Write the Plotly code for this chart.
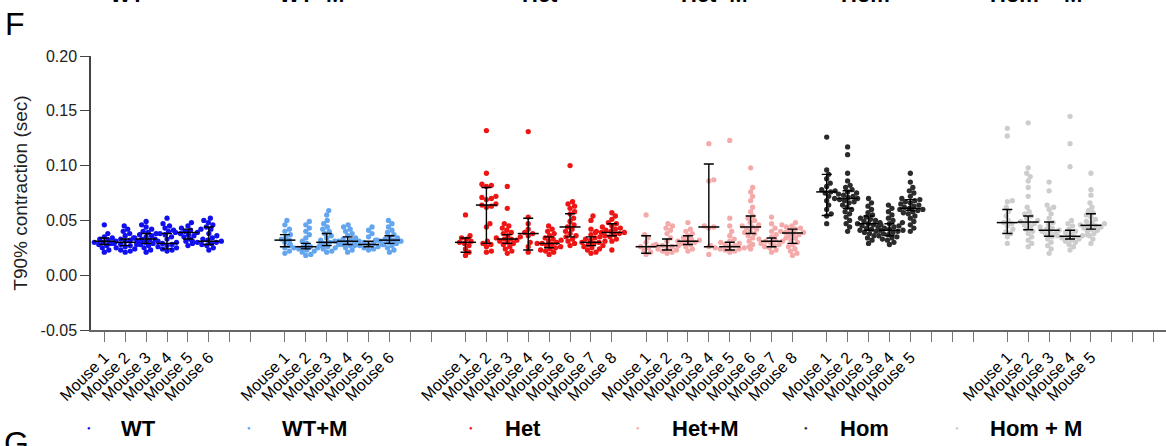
import numpy as np
import plotly.graph_objects as go

# ---------------- data ----------------
groups = ["WT", "WT+M", "Het", "Het+M", "Hom", "Hom + M"]
colors = ["#1010ee", "#63a5ef", "#ee1515", "#f5aaaa", "#2b2b2b", "#cdcdcd"]

wt = [
    [0.046, 0.038, 0.035, 0.034, 0.033, 0.032, 0.031, 0.031, 0.030, 0.030, 0.029, 0.028, 0.027, 0.025, 0.023, 0.021],
    [0.045, 0.042, 0.040, 0.038, 0.036, 0.034, 0.033, 0.032, 0.031, 0.030, 0.030, 0.029, 0.029, 0.028, 0.028, 0.027, 0.026, 0.025, 0.024, 0.023, 0.022, 0.021],
    [0.049, 0.046, 0.044, 0.042, 0.040, 0.039, 0.038, 0.037, 0.036, 0.035, 0.034, 0.033, 0.033, 0.032, 0.031, 0.030, 0.029, 0.028, 0.027, 0.025, 0.023, 0.021],
    [0.052, 0.047, 0.045, 0.043, 0.041, 0.040, 0.038, 0.037, 0.035, 0.033, 0.031, 0.030, 0.029, 0.028, 0.027, 0.026, 0.025, 0.024, 0.023, 0.022],
    [0.048, 0.045, 0.043, 0.042, 0.041, 0.040, 0.039, 0.039, 0.038, 0.037, 0.036, 0.035, 0.033, 0.031, 0.029, 0.027],
    [0.052, 0.050, 0.048, 0.046, 0.044, 0.042, 0.038, 0.036, 0.034, 0.033, 0.032, 0.031, 0.031, 0.030, 0.030, 0.029, 0.028, 0.027, 0.025, 0.023],
]
wt_m = [
    [0.050, 0.046, 0.042, 0.040, 0.037, 0.035, 0.033, 0.032, 0.030, 0.027, 0.025, 0.022, 0.020],
    [0.049, 0.046, 0.043, 0.040, 0.037, 0.034, 0.031, 0.029, 0.028, 0.027, 0.026, 0.026, 0.025, 0.025, 0.024, 0.023, 0.022, 0.021, 0.019, 0.018],
    [0.059, 0.055, 0.050, 0.047, 0.044, 0.042, 0.040, 0.038, 0.036, 0.034, 0.032, 0.031, 0.030, 0.029, 0.028, 0.027, 0.026, 0.025, 0.024, 0.022, 0.021],
    [0.046, 0.044, 0.042, 0.040, 0.038, 0.036, 0.034, 0.033, 0.032, 0.031, 0.031, 0.030, 0.029, 0.028, 0.027, 0.025, 0.023, 0.021],
    [0.044, 0.041, 0.038, 0.035, 0.032, 0.030, 0.029, 0.028, 0.028, 0.027, 0.027, 0.026, 0.025, 0.024, 0.023],
    [0.050, 0.047, 0.044, 0.041, 0.039, 0.037, 0.035, 0.034, 0.033, 0.032, 0.032, 0.031, 0.031, 0.030, 0.029, 0.028, 0.027, 0.025, 0.023, 0.021],
]
het = [
    [0.055, 0.036, 0.034, 0.033, 0.031, 0.030, 0.029, 0.027, 0.024, 0.021, 0.018],
    [0.132, 0.093, 0.083, 0.082, 0.081, 0.072, 0.071, 0.070, 0.069, 0.065, 0.064, 0.063, 0.062, 0.047, 0.044, 0.031, 0.029, 0.028, 0.026, 0.022, 0.021],
    [0.081, 0.061, 0.047, 0.045, 0.043, 0.041, 0.039, 0.038, 0.036, 0.035, 0.034, 0.033, 0.033, 0.032, 0.031, 0.030, 0.029, 0.028, 0.026, 0.024, 0.022, 0.020],
    [0.131, 0.053, 0.047, 0.042, 0.039, 0.038, 0.036, 0.030, 0.026, 0.021],
    [0.045, 0.042, 0.040, 0.038, 0.036, 0.034, 0.033, 0.032, 0.031, 0.030, 0.029, 0.029, 0.028, 0.027, 0.026, 0.025, 0.024, 0.023, 0.022, 0.021, 0.019],
    [0.100, 0.067, 0.065, 0.063, 0.061, 0.058, 0.056, 0.052, 0.049, 0.046, 0.044, 0.042, 0.040, 0.038, 0.036, 0.035, 0.033, 0.031, 0.029, 0.027],
    [0.054, 0.050, 0.042, 0.039, 0.037, 0.035, 0.034, 0.033, 0.032, 0.031, 0.030, 0.030, 0.029, 0.028, 0.027, 0.026, 0.025, 0.024, 0.023, 0.021, 0.020],
    [0.057, 0.054, 0.051, 0.048, 0.047, 0.045, 0.044, 0.043, 0.042, 0.041, 0.040, 0.040, 0.039, 0.039, 0.038, 0.037, 0.036, 0.035, 0.033, 0.031, 0.023],
]
het_m = [
    [0.055, 0.037, 0.034, 0.030, 0.027, 0.026, 0.025, 0.023, 0.021, 0.019],
    [0.047, 0.045, 0.043, 0.041, 0.038, 0.034, 0.031, 0.029, 0.028, 0.027, 0.027, 0.026, 0.025, 0.024, 0.023, 0.022, 0.021, 0.020],
    [0.048, 0.042, 0.040, 0.038, 0.036, 0.034, 0.033, 0.032, 0.031, 0.031, 0.030, 0.029, 0.028, 0.026, 0.024, 0.022],
    [0.120, 0.087, 0.086, 0.045, 0.044, 0.043, 0.026, 0.019],
    [0.123, 0.052, 0.045, 0.040, 0.036, 0.033, 0.031, 0.030, 0.029, 0.028, 0.027, 0.027, 0.026, 0.026, 0.025, 0.025, 0.024, 0.024, 0.023, 0.022, 0.021],
    [0.098, 0.080, 0.076, 0.072, 0.068, 0.062, 0.058, 0.054, 0.052, 0.050, 0.048, 0.046, 0.045, 0.044, 0.043, 0.042, 0.040, 0.039, 0.038, 0.036, 0.034, 0.031, 0.028, 0.024],
    [0.053, 0.047, 0.043, 0.040, 0.037, 0.035, 0.034, 0.033, 0.032, 0.031, 0.031, 0.030, 0.029, 0.028, 0.027, 0.026, 0.025, 0.023, 0.021],
    [0.048, 0.046, 0.045, 0.044, 0.043, 0.042, 0.041, 0.040, 0.039, 0.039, 0.038, 0.037, 0.036, 0.034, 0.032, 0.030, 0.028, 0.026, 0.024, 0.022, 0.020, 0.018],
]
hom = [
    [0.126, 0.096, 0.092, 0.088, 0.084, 0.081, 0.078, 0.076, 0.075, 0.072, 0.068, 0.064, 0.060, 0.056, 0.054, 0.047],
    [0.117, 0.110, 0.093, 0.086, 0.082, 0.080, 0.078, 0.077, 0.076, 0.075, 0.074, 0.073, 0.072, 0.071, 0.070, 0.070, 0.069, 0.068, 0.067, 0.066, 0.064, 0.062, 0.060, 0.058, 0.056, 0.053, 0.050, 0.047, 0.044, 0.040],
    [0.070, 0.066, 0.063, 0.060, 0.057, 0.055, 0.053, 0.052, 0.051, 0.050, 0.049, 0.048, 0.047, 0.047, 0.046, 0.045, 0.044, 0.043, 0.042, 0.041, 0.040, 0.039, 0.038, 0.036, 0.034, 0.032, 0.029],
    [0.064, 0.061, 0.058, 0.055, 0.052, 0.050, 0.048, 0.047, 0.046, 0.045, 0.044, 0.043, 0.042, 0.041, 0.041, 0.040, 0.039, 0.038, 0.037, 0.036, 0.035, 0.034, 0.033, 0.032, 0.030, 0.028],
    [0.093, 0.085, 0.080, 0.077, 0.075, 0.072, 0.070, 0.069, 0.068, 0.067, 0.066, 0.065, 0.064, 0.063, 0.062, 0.061, 0.060, 0.060, 0.059, 0.058, 0.057, 0.056, 0.054, 0.052, 0.049, 0.046, 0.043, 0.040],
]
hom_m = [
    [0.134, 0.127, 0.068, 0.067, 0.062, 0.058, 0.054, 0.050, 0.048, 0.047, 0.045, 0.042, 0.040, 0.038, 0.035, 0.029],
    [0.139, 0.098, 0.093, 0.090, 0.086, 0.080, 0.072, 0.062, 0.058, 0.056, 0.054, 0.052, 0.050, 0.049, 0.048, 0.047, 0.046, 0.044, 0.042, 0.040, 0.038, 0.035, 0.032, 0.029, 0.026],
    [0.085, 0.077, 0.064, 0.062, 0.060, 0.056, 0.052, 0.048, 0.046, 0.044, 0.043, 0.042, 0.041, 0.040, 0.039, 0.038, 0.037, 0.035, 0.033, 0.030, 0.027, 0.024, 0.020],
    [0.145, 0.120, 0.099, 0.050, 0.047, 0.045, 0.042, 0.040, 0.039, 0.038, 0.037, 0.036, 0.036, 0.035, 0.035, 0.034, 0.033, 0.032, 0.031, 0.030, 0.028, 0.026, 0.023],
    [0.093, 0.078, 0.073, 0.066, 0.062, 0.059, 0.057, 0.055, 0.053, 0.051, 0.049, 0.048, 0.047, 0.046, 0.045, 0.045, 0.044, 0.043, 0.042, 0.041, 0.040, 0.038, 0.036, 0.033, 0.029],
]
group_values = [wt, wt_m, het, het_m, hom, hom_m]

# median and spread bars
med = [
    [0.031, 0.030, 0.033, 0.029, 0.039, 0.031],
    [0.032, 0.026, 0.030, 0.031, 0.028, 0.032],
    [0.030, 0.064, 0.033, 0.038, 0.029, 0.044, 0.030, 0.039],
    [0.026, 0.027, 0.031, 0.044, 0.026, 0.044, 0.031, 0.0385],
    [0.076, 0.070, 0.047, 0.041, 0.061],
    [0.048, 0.0485, 0.041, 0.0355, 0.0455],
]
low = [
    [0.028, 0.027, 0.029, 0.024, 0.033, 0.028],
    [0.026, 0.024, 0.027, 0.028, 0.026, 0.029],
    [0.021, 0.029, 0.029, 0.023, 0.025, 0.035, 0.027, 0.036],
    [0.020, 0.023, 0.028, 0.026, 0.023, 0.038, 0.026, 0.029],
    [0.0545, 0.061, 0.041, 0.036, 0.059],
    [0.038, 0.0415, 0.0355, 0.033, 0.042],
]
high = [
    [0.034, 0.033, 0.038, 0.038, 0.042, 0.044],
    [0.037, 0.029, 0.038, 0.035, 0.031, 0.036],
    [0.034, 0.080, 0.037, 0.052, 0.035, 0.056, 0.035, 0.047],
    [0.036, 0.033, 0.036, 0.1015, 0.030, 0.054, 0.034, 0.042],
    [0.092, 0.077, 0.054, 0.047, 0.069],
    [0.060, 0.054, 0.0485, 0.041, 0.056],
]

y_ticks = [-0.05, 0.0, 0.05, 0.10, 0.15, 0.20]
y_ticktext = ["-0.05", "0.00", "0.05", "0.10", "0.15", "0.20"]
mouse_label = "Mouse {}"

# ---------------- layout geometry ----------------
W, H = 1166, 446
ML, MR, MT, MB = 91, 0, 56, 116
SLOT_PX = 20.91          # pixels per category slot
SLOTS = 8                # slots per group
GROUP_PERIOD = 8.637     # slots per group incl. gap
FIRST_PX = 104.3 - ML    # first tick offset from plot left
x0 = -FIRST_PX / SLOT_PX
x1 = x0 + (W - ML - MR) / SLOT_PX
YMIN, YMAX = -0.05, 0.20
Y_PX = (H - MT - MB) / (YMAX - YMIN)

FONT = "Arial, Liberation Sans, Helvetica, sans-serif"


def swarm_offsets(vals, diam=4.8):
    """deterministic beeswarm: returns x offsets in slot units"""
    ys = np.asarray(vals, dtype=float) * Y_PX
    order = np.argsort(ys)
    placed = []
    offs = np.zeros(len(ys))
    cands = [0.0]
    for k in range(1, 60):
        cands += [k * 0.5, -k * 0.5]
    for i in order:
        y = ys[i]
        for c in cands:
            if all((c - px) ** 2 + (y - py) ** 2 >= diam ** 2 for px, py in placed):
                offs[i] = c
                placed.append((c, y))
                break
    return offs / SLOT_PX


fig = go.Figure()

tickvals, ticktext = [], []
for g in range(len(groups)):
    for s in range(SLOTS):
        tickvals.append(g * GROUP_PERIOD + s)
        ticktext.append(mouse_label.format(s + 1) if s < len(group_values[g]) else "")

for g, (name, col, mice) in enumerate(zip(groups, colors, group_values)):
    xs, ys = [], []
    for s, vals in enumerate(mice):
        center = g * GROUP_PERIOD + s
        offs = swarm_offsets(vals)
        xs.extend(center + offs)
        ys.extend(vals)
    fig.add_trace(go.Scatter(
        x=xs, y=ys, mode="markers", name=name, showlegend=False,
        marker=dict(size=5.3, color=col, line=dict(width=0)),
        cliponaxis=False,
    ))

for g in range(len(groups)):
    centers = [g * GROUP_PERIOD + s for s in range(len(med[g]))]
    m = np.array(med[g]); lo = np.array(low[g]); hi = np.array(high[g])
    fig.add_trace(go.Scatter(
        x=centers, y=m, mode="markers", showlegend=False,
        marker=dict(symbol="line-ew", size=15, color="black",
                    line=dict(width=1.5, color="black")),
        error_y=dict(type="data", symmetric=False, array=hi - m, arrayminus=m - lo,
                     color="black", thickness=1.4, width=5),
        cliponaxis=False,
    ))


def px2paper_x(px):
    return (px - ML) / (W - ML - MR)


def px2paper_y(py):
    return (H - MB - py) / (H - MT - MB)


legend_dot_px = [89, 249, 471, 638, 806, 957]
legend_txt_px = [119, 280, 503, 670, 838, 988]
LEG_Y = 428
title_px = [127, 311, 540, 714, 865, 1036]

annotations = []
annotations.append(dict(text="F", x=px2paper_x(15), y=px2paper_y(24), xref="paper", yref="paper",
                        showarrow=False, font=dict(size=32, color="black", family=FONT),
                        xanchor="center", yanchor="middle"))
annotations.append(dict(text="G", x=px2paper_x(16), y=px2paper_y(443), xref="paper", yref="paper",
                        showarrow=False, font=dict(size=32, color="black", family=FONT),
                        xanchor="center", yanchor="middle"))
for name, col, dpx, tpx in zip(groups, colors, legend_dot_px, legend_txt_px):
    annotations.append(dict(text="<b>%s</b>" % name, x=px2paper_x(tpx), y=px2paper_y(LEG_Y),
                            xref="paper", yref="paper", showarrow=False, xanchor="left",
                            yanchor="middle", font=dict(size=22, color="black", family=FONT)))
    annotations.append(dict(text="●", x=px2paper_x(dpx), y=px2paper_y(LEG_Y), xref="paper",
                            yref="paper", showarrow=False, xanchor="center", yanchor="middle",
                            font=dict(size=6, color=col, family=FONT)))
# group titles cut at the top of the picture
for name, tpx in zip(groups, title_px):
    annotations.append(dict(text="<b>%s</b>" % name, x=px2paper_x(tpx), y=px2paper_y(9),
                            xref="paper", yref="paper", showarrow=False, xanchor="center",
                            yanchor="bottom", font=dict(size=22, color="black", family=FONT)))

fig.update_layout(
    width=W, height=H,
    margin=dict(l=ML, r=MR, t=MT, b=MB, pad=0),
    paper_bgcolor="white", plot_bgcolor="white",
    showlegend=False,
    font=dict(family=FONT, color="black"),
    annotations=annotations,
    xaxis=dict(
        range=[x0, x1], tickmode="array", tickvals=tickvals, ticktext=ticktext,
        tickangle=-45, ticks="outside", ticklen=10, tickwidth=1.2, tickcolor="#777777",
        showline=True, linecolor="#666666", linewidth=1.5, showgrid=False, zeroline=False,
        tickfont=dict(size=16, color="black", family=FONT), automargin=False,
    ),
    yaxis=dict(
        range=[YMIN, YMAX], tickmode="array", tickvals=y_ticks, ticktext=y_ticktext,
        ticks="outside", ticklen=9, tickwidth=1.2, tickcolor="#444444",
        showline=True, linecolor="#444444", linewidth=1.5, showgrid=False, zeroline=False,
        tickfont=dict(size=16, color="#222222", family=FONT), automargin=False,
        title=dict(text="T90% contraction (sec)", font=dict(size=19, color="#222222", family=FONT),
                   standoff=8),
    ),
)

fig.write_html("out.html")
